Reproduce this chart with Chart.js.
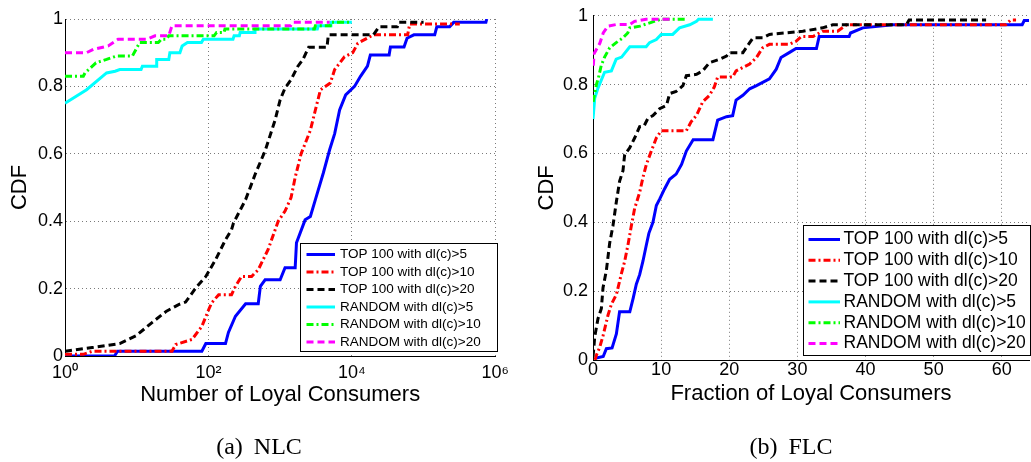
<!DOCTYPE html>
<html>
<head>
<meta charset="utf-8">
<title>NLC / FLC</title>
<script src="https://cdn.jsdelivr.net/npm/chart.js@4.4.0/dist/chart.umd.min.js"></script>
<style>
    html, body { margin: 0; padding: 0; background: #fff; }
    body { width: 1031px; height: 462px; position: relative; overflow: hidden; }
    canvas { position: absolute; top: 0; }
    #nlcChart { left: 0; }
    #flcChart { left: 520px; }
    .caption {
        position: absolute;
        top: 432px;
        line-height: 28px;
        font-family: "Liberation Serif", "Times New Roman", serif;
        font-size: 24px;
        word-spacing: 5px;
        white-space: nowrap;
        transform: translateX(-50%);
        color: #000;
    }
</style>
</head>
<body>
<canvas id="nlcChart" width="515" height="462"></canvas>
<canvas id="flcChart" width="511" height="462"></canvas>
<div class="caption" style="left:259px">(a) NLC</div>
<div class="caption" style="left:791px">(b) FLC</div>
<script>
// Series names, shared by both panels
const seriesLabels = [
    'TOP 100 with dl(c)>5',
    'TOP 100 with dl(c)>10',
    'TOP 100 with dl(c)>20',
    'RANDOM with dl(c)>5',
    'RANDOM with dl(c)>10',
    'RANDOM with dl(c)>20'
];

// CDF axis
const cdfTicks = [0, 0.2, 0.4, 0.6, 0.8, 1];
const cdfTickLabels = ['0', '0.2', '0.4', '0.6', '0.8', '1'];

// (a) Number of loyal consumers, log axis
const nlcTicks = [1, 100, 10000, 1000000];
const nlcTickLabels = ['10\u2070', '10\u00b2', '10\u2074', '10\u2076'];

const nlcTop5X = [1, 4.9, 5.4, 81, 92, 173, 190, 238, 330, 495, 530, 617, 1000, 1170, 1620, 1690, 2230, 2640, 3100, 4000, 4900, 5760, 6750, 8200, 10900, 13200, 16500, 18100, 33100, 34500, 53400, 58800, 73300, 143000, 153000, 231000, 263000, 740000, 760000];
const nlcTop5Y = [0, 0, 0.014, 0.014, 0.037, 0.037, 0.07, 0.118, 0.155, 0.155, 0.207, 0.226, 0.226, 0.262, 0.262, 0.336, 0.404, 0.414, 0.464, 0.543, 0.612, 0.66, 0.73, 0.775, 0.80, 0.83, 0.86, 0.893, 0.893, 0.917, 0.917, 0.943, 0.953, 0.953, 0.977, 0.977, 0.99, 0.99, 1.0];

const nlcTop10X = [1, 1.8, 2.4, 31, 35, 59, 81, 101, 111, 139, 210, 238, 290, 400, 495, 680, 940, 1170, 1420, 1620, 1960, 2640, 3100, 3650, 5000, 5760, 7900, 10300, 12100, 20000, 60000, 64000, 320000];
const nlcTop10Y = [0.005, 0.005, 0.014, 0.014, 0.034, 0.049, 0.088, 0.138, 0.158, 0.182, 0.182, 0.207, 0.236, 0.236, 0.256, 0.316, 0.40, 0.43, 0.47, 0.53, 0.60, 0.67, 0.73, 0.79, 0.81, 0.85, 0.888, 0.90, 0.928, 0.953, 0.953, 0.985, 0.985];

const nlcTop20X = [1, 2.4, 5.8, 9.8, 16.5, 26, 39, 48, 67, 92, 126, 173, 210, 224, 330, 450, 620, 850, 1000, 1170, 1420, 1770, 2080, 2500, 4500, 4700, 20000, 24000, 43000, 45000, 100000];
const nlcTop20Y = [0.014, 0.025, 0.037, 0.06, 0.10, 0.133, 0.153, 0.16, 0.203, 0.236, 0.286, 0.345, 0.375, 0.395, 0.464, 0.54, 0.61, 0.70, 0.76, 0.795, 0.82, 0.86, 0.88, 0.916, 0.916, 0.953, 0.953, 0.977, 0.977, 0.99, 0.99];

const nlcRand5X = [1, 2, 3.8, 5, 5.8, 11.5, 12, 18.6, 19, 28, 29, 40, 43, 51, 80, 85, 220, 228, 270, 277, 440, 446, 3300, 3400, 5000, 5100, 10000];
const nlcRand5Y = [0.75, 0.79, 0.84, 0.845, 0.85, 0.85, 0.86, 0.86, 0.88, 0.88, 0.90, 0.90, 0.92, 0.93, 0.93, 0.94, 0.94, 0.95, 0.95, 0.96, 0.96, 0.97, 0.97, 0.98, 0.98, 0.99, 0.99];

const nlcRand10X = [1, 1.8, 1.9, 2.7, 3.8, 5.2, 8.7, 11, 20, 22, 26, 28, 120, 130, 165, 170, 3000, 3100, 5000, 5100, 10000];
const nlcRand10Y = [0.83, 0.83, 0.84, 0.87, 0.88, 0.89, 0.89, 0.93, 0.93, 0.94, 0.94, 0.95, 0.95, 0.96, 0.96, 0.97, 0.97, 0.98, 0.98, 0.99, 0.99];

const nlcRand20X = [1, 2, 2.5, 4, 5.5, 14, 18, 28, 31, 1400, 1500, 4900];
const nlcRand20Y = [0.90, 0.90, 0.91, 0.92, 0.94, 0.94, 0.95, 0.95, 0.98, 0.98, 0.99, 0.99];

// (b) Fraction of loyal consumers, linear axis
const flcTicks = [0, 10, 20, 30, 40, 50, 60];
const flcMax = 64;

const flcTop5X = [0.3, 1.5, 1.96, 2.8, 3.43, 3.9, 5.4, 5.9, 6.36, 6.85, 7.33, 7.83, 8.2, 8.8, 9.3, 9.8, 10.5, 11.25, 12.2, 13.0, 13.7, 14.7, 17.6, 18.3, 19.6, 20.5, 21, 22, 23, 24, 25.9, 26.9, 27.6, 28.8, 29.8, 32.8, 33.2, 37.6, 37.8, 39.6, 44, 63, 63.3, 64];
const flcTop5Y = [0.005, 0.01, 0.033, 0.035, 0.076, 0.14, 0.14, 0.18, 0.22, 0.248, 0.287, 0.334, 0.368, 0.40, 0.449, 0.468, 0.497, 0.525, 0.54, 0.568, 0.607, 0.64, 0.64, 0.697, 0.707, 0.71, 0.755, 0.769, 0.788, 0.797, 0.817, 0.845, 0.879, 0.893, 0.905, 0.905, 0.94, 0.94, 0.95, 0.965, 0.974, 0.974, 0.986, 0.986];

const flcTop10X = [0.3, 0.5, 1.0, 1.47, 2.2, 2.7, 3.43, 4.16, 4.65, 5.13, 5.63, 6.11, 6.85, 7.33, 7.83, 8.56, 9.3, 10.0, 13.7, 14.4, 15.2, 16.1, 17.1, 17.8, 18.3, 20.5, 21, 23, 24, 24.9, 25.9, 28.8, 29.8, 30.6, 32.3, 33.7, 35.9, 37.2, 60.6, 61.3, 62.1];
const flcTop10Y = [0.0, 0.014, 0.038, 0.07, 0.13, 0.162, 0.19, 0.25, 0.287, 0.334, 0.39, 0.44, 0.487, 0.53, 0.568, 0.607, 0.645, 0.666, 0.666, 0.692, 0.711, 0.75, 0.769, 0.793, 0.822, 0.822, 0.84, 0.86, 0.879, 0.907, 0.917, 0.917, 0.926, 0.94, 0.94, 0.955, 0.955, 0.974, 0.974, 0.988, 0.988];

const flcTop20X = [0, 0.1, 0.25, 0.73, 1.23, 1.47, 1.96, 2.45, 2.93, 3.43, 3.91, 4.4, 4.65, 5.38, 6.11, 6.85, 7.5, 8.06, 8.8, 9.78, 10.8, 11.25, 12.2, 13.2, 13.7, 15.2, 16.1, 17.1, 18.6, 19.6, 20, 22, 23, 23.5, 24.9, 25.9, 30.8, 33.7, 35.2, 46, 46.4, 57.7];
const flcTop20Y = [0.01, 0.03, 0.067, 0.12, 0.15, 0.21, 0.26, 0.34, 0.39, 0.46, 0.52, 0.55, 0.597, 0.616, 0.645, 0.678, 0.68, 0.702, 0.71, 0.73, 0.74, 0.774, 0.78, 0.797, 0.826, 0.83, 0.84, 0.864, 0.874, 0.883, 0.893, 0.893, 0.922, 0.936, 0.936, 0.946, 0.955, 0.965, 0.974, 0.974, 0.988, 0.988];

const flcRand5X = [0, 0.25, 0.73, 1.7, 2.7, 3.4, 4.2, 5.4, 7.8, 8.3, 9.3, 10, 11.7, 12.7, 14.2, 15.2, 15.5, 17.6];
const flcRand5Y = [0.70, 0.76, 0.79, 0.836, 0.84, 0.874, 0.88, 0.91, 0.91, 0.922, 0.931, 0.946, 0.946, 0.965, 0.974, 0.984, 0.99, 0.99];

const flcRand10X = [0.02, 0.5, 0.8, 1.2, 1.7, 2.45, 3.4, 4.4, 5.1, 5.4, 6.9, 9.3, 10, 13.7];
const flcRand10Y = [0.75, 0.80, 0.82, 0.855, 0.88, 0.907, 0.922, 0.936, 0.95, 0.965, 0.97, 0.986, 0.99, 0.99];

const flcRand20X = [0.05, 0.15, 1.0, 1.5, 2.2, 3.5, 5.4, 6.1, 7.8, 11.7];
const flcRand20Y = [0.855, 0.89, 0.92, 0.95, 0.97, 0.975, 0.975, 0.984, 0.99, 0.99];

// Line styles (MATLAB-like: b-, r-., k--, c-, g-., m--)
const lineColors = ['#0000ff', '#ff0000', '#000000', '#00ffff', '#00ff00', '#ff00ff'];
const lineDashes = [[], [7, 3, 2, 3], [7, 4], [], [7, 3, 2, 3], [7, 4]];

const FONT = '"Liberation Sans", Arial, Helvetica, sans-serif';
const gridColor = '#7a7a7a';

Chart.defaults.font.family = FONT;
Chart.defaults.color = '#000';

function toPoints(xs, ys) {
    return xs.map((x, i) => ({ x: x, y: ys[i] }));
}

function buildDatasets(series) {
    return series.map(([xs, ys], i) => ({
        label: seriesLabels[i],
        data: toPoints(xs, ys),
        borderColor: lineColors[i],
        borderDash: lineDashes[i],
        borderWidth: 3,
        pointRadius: 0,
        tension: 0,
        fill: false,
        // later series are painted on top
        order: series.length - i
    }));
}

/**
 * Boxed legend drawn over the plot area, white fill and thin black frame
 */
const boxedLegend = {
    id: 'boxedLegend',
    afterDraw(chart, args, opts) {
        const ctx = chart.ctx;
        ctx.save();
        ctx.fillStyle = '#fff';
        ctx.fillRect(opts.left, opts.top, opts.right - opts.left, opts.bottom - opts.top);
        ctx.strokeStyle = '#000';
        ctx.lineWidth = 1;
        ctx.strokeRect(opts.left + 0.5, opts.top + 0.5, opts.right - opts.left - 1, opts.bottom - opts.top - 1);

        ctx.font = `${opts.fontSize}px ${FONT}`;
        ctx.textBaseline = 'middle';
        ctx.textAlign = 'left';
        chart.data.datasets.forEach((ds, i) => {
            const y = opts.rowTop + i * opts.rowStep;
            ctx.beginPath();
            ctx.strokeStyle = ds.borderColor;
            ctx.lineWidth = ds.borderWidth;
            ctx.setLineDash(ds.borderDash || []);
            ctx.moveTo(opts.lineStart, y);
            ctx.lineTo(opts.lineEnd, y);
            ctx.stroke();
            ctx.setLineDash([]);
            ctx.fillStyle = '#000';
            ctx.fillText(ds.label, opts.textX, y);
        });
        ctx.restore();
    }
};

function cdfAxis(width, titlePad, tickPad) {
    return {
        min: 0,
        max: 1,
        afterBuildTicks: s => { s.ticks = cdfTicks.map(v => ({ value: v })); },
        afterFit: s => { s.width = width; },
        ticks: {
            callback: v => cdfTickLabels[cdfTicks.indexOf(v)],
            font: { size: 18 },
            color: '#000',
            padding: tickPad
        },
        grid: { color: gridColor, lineWidth: 1, drawTicks: false },
        border: { color: '#000', width: 1, dash: [1, 3] },
        title: {
            display: true,
            text: 'CDF',
            font: { size: 22 },
            color: '#000',
            padding: { top: titlePad, bottom: 0 }
        }
    };
}

// (a) NLC
new Chart(document.getElementById('nlcChart'), {
    type: 'line',
    data: {
        datasets: buildDatasets([
            [nlcTop5X, nlcTop5Y],
            [nlcTop10X, nlcTop10Y],
            [nlcTop20X, nlcTop20Y],
            [nlcRand5X, nlcRand5Y],
            [nlcRand10X, nlcRand10Y],
            [nlcRand20X, nlcRand20Y]
        ])
    },
    options: {
        responsive: false,
        animation: false,
        devicePixelRatio: 1,
        events: [],
        layout: { padding: { left: 0, top: 19, right: 16, bottom: 0 } },
        plugins: {
            legend: { display: false },
            tooltip: { enabled: false },
            boxedLegend: {
                left: 300, top: 243, right: 498, bottom: 352,
                rowTop: 254.5, rowStep: 17.5,
                lineStart: 306.5, lineEnd: 335, textX: 340, fontSize: 13.5
            }
        },
        scales: {
            x: {
                type: 'logarithmic',
                min: 1,
                max: 1000000,
                afterBuildTicks: s => { s.ticks = nlcTicks.map(v => ({ value: v })); },
                afterFit: s => { s.height = 106; },
                ticks: {
                    callback: v => nlcTickLabels[nlcTicks.indexOf(v)],
                    autoSkip: false,
                    maxRotation: 0,
                    font: { size: 18 },
                    color: '#000',
                    padding: 6
                },
                grid: { color: gridColor, lineWidth: 1, drawTicks: false },
                border: { color: '#000', width: 1, dash: [1, 3] },
                title: {
                    display: true,
                    text: 'Number of Loyal Consumers',
                    font: { size: 22 },
                    color: '#000',
                    padding: { top: 0, bottom: 54.3 }
                }
            },
            y: cdfAxis(65, 6.8, 2)
        }
    },
    plugins: [boxedLegend]
});

// (b) FLC
new Chart(document.getElementById('flcChart'), {
    type: 'line',
    data: {
        datasets: buildDatasets([
            [flcTop5X, flcTop5Y],
            [flcTop10X, flcTop10Y],
            [flcTop20X, flcTop20Y],
            [flcRand5X, flcRand5Y],
            [flcRand10X, flcRand10Y],
            [flcRand20X, flcRand20Y]
        ])
    },
    options: {
        responsive: false,
        animation: false,
        devicePixelRatio: 1,
        events: [],
        layout: { padding: { left: 0, top: 11, right: 2, bottom: 0 } },
        plugins: {
            legend: { display: false },
            tooltip: { enabled: false },
            boxedLegend: {
                left: 283, top: 225, right: 511, bottom: 356,
                rowTop: 239.5, rowStep: 20.8,
                lineStart: 288.5, lineEnd: 320, textX: 323.5, fontSize: 17.5
            }
        },
        scales: {
            x: {
                type: 'linear',
                min: 0,
                max: flcMax,
                afterBuildTicks: s => { s.ticks = flcTicks.map(v => ({ value: v })); },
                afterFit: s => { s.height = 102; },
                ticks: {
                    autoSkip: false,
                    maxRotation: 0,
                    font: { size: 18 },
                    color: '#000',
                    padding: -1
                },
                grid: { color: gridColor, lineWidth: 1, drawTicks: false },
                border: { color: '#000', width: 1, dash: [1, 3] },
                title: {
                    display: true,
                    text: 'Fraction of Loyal Consumers',
                    font: { size: 22 },
                    color: '#000',
                    padding: { top: 0, bottom: 54.6 }
                }
            },
            y: cdfAxis(73, 13.5, 5)
        }
    },
    plugins: [boxedLegend]
});
</script>
</body>
</html>
